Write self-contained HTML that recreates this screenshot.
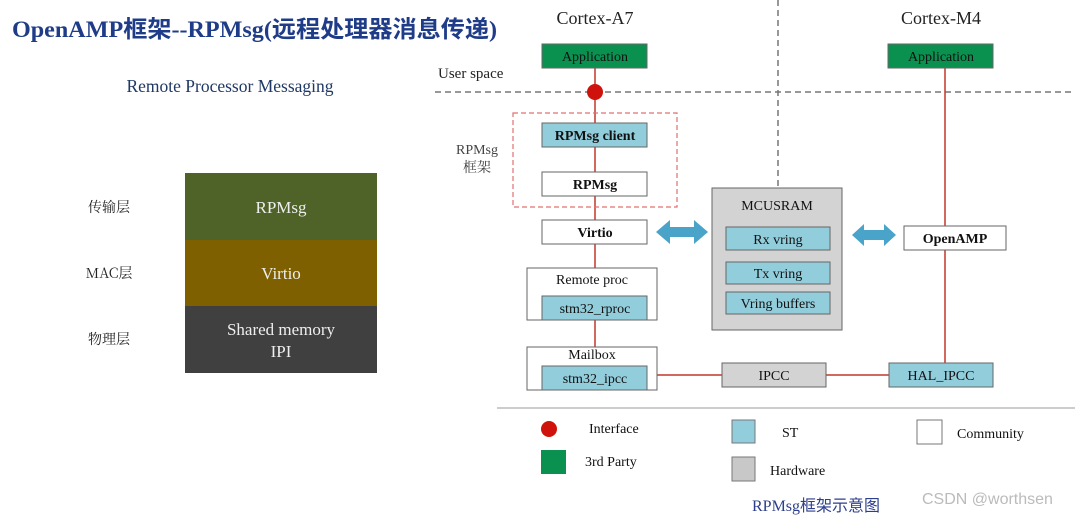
<!DOCTYPE html>
<html><head><meta charset="utf-8"><style>
html,body{margin:0;padding:0;background:#fff;}
svg{display:block;}
.s{font-family:"Liberation Serif","Noto Serif CJK SC",serif;}
</style></head><body>
<svg width="1084" height="515" viewBox="0 0 1084 515" xmlns="http://www.w3.org/2000/svg" class="s">
<text x="12" y="37" font-family="Liberation Serif,Noto Sans CJK SC,serif" font-weight="bold" font-size="23.5" fill="#1f3c88" textLength="485" lengthAdjust="spacingAndGlyphs">OpenAMP框架--RPMsg(远程处理器消息传递)</text>
<text x="230" y="92" text-anchor="middle" font-size="17.5" fill="#1f3864">Remote Processor Messaging</text>
<rect x="185" y="173" width="192" height="67" fill="#4f6228"/>
<rect x="185" y="240" width="192" height="66" fill="#7f6000"/>
<rect x="185" y="306" width="192" height="67" fill="#404040"/>
<g fill="#eee" font-size="17" text-anchor="middle">
<text x="281" y="213">RPMsg</text><text x="281" y="279">Virtio</text>
<text x="281" y="335">Shared memory</text><text x="281" y="357">IPI</text></g>
<g font-size="14" fill="#222" text-anchor="middle" font-family="Noto Serif CJK SC,serif">
<text x="109" y="212">传输层</text><text x="109" y="278">MAC层</text><text x="109" y="344">物理层</text></g>

<line x1="778" y1="0" x2="778" y2="188" stroke="#777" stroke-dasharray="6,4" stroke-width="1.5"/>
<line x1="435" y1="92" x2="1072" y2="92" stroke="#777" stroke-dasharray="6,4" stroke-width="1.5"/>
<text x="595" y="24" text-anchor="middle" font-size="18" fill="#222">Cortex-A7</text>
<text x="941" y="24" text-anchor="middle" font-size="18" fill="#222">Cortex-M4</text>
<text x="438" y="78" font-size="15" fill="#222">User space</text>
<text x="477" y="154" text-anchor="middle" font-size="14" fill="#444">RPMsg</text>
<text x="477" y="172" text-anchor="middle" font-size="14" fill="#444" font-family="Noto Serif CJK SC,serif">框架</text>

<g stroke="#c0392b" stroke-width="1.5">
<line x1="595" y1="68" x2="595" y2="366"/>
<line x1="945" y1="68" x2="945" y2="363"/>
<line x1="647" y1="375" x2="889" y2="375"/>
</g>
<circle cx="595" cy="92" r="8" fill="#d0120c"/>
<rect x="513" y="113" width="164" height="94" fill="none" stroke="#e07070" stroke-dasharray="5,3" stroke-width="1.2"/>

<g stroke="#666" stroke-width="1">
<rect x="542" y="44" width="105" height="24" fill="#0a9150"/>
<rect x="888" y="44" width="105" height="24" fill="#0a9150"/>
<rect x="542" y="123" width="105" height="24" fill="#92cddc"/>
<rect x="542" y="172" width="105" height="24" fill="#fff"/>
<rect x="542" y="220" width="105" height="24" fill="#fff"/>
<rect x="712" y="188" width="130" height="142" fill="#d3d3d3"/>
<rect x="726" y="227" width="104" height="23" fill="#92cddc"/>
<rect x="726" y="262" width="104" height="22" fill="#92cddc"/>
<rect x="726" y="292" width="104" height="22" fill="#92cddc"/>
<rect x="904" y="226" width="102" height="24" fill="#fff"/>
<rect x="527" y="268" width="130" height="52" fill="#fff"/>
<rect x="542" y="296" width="105" height="24" fill="#92cddc"/>
<rect x="527" y="347" width="130" height="43" fill="#fff"/>
<rect x="542" y="366" width="105" height="24" fill="#92cddc"/>
<rect x="722" y="363" width="104" height="24" fill="#d3d3d3"/>
<rect x="889" y="363" width="104" height="24" fill="#92cddc"/>
</g>
<g font-size="14" text-anchor="middle" fill="#111">
<text x="595" y="61">Application</text>
<text x="941" y="61">Application</text>
<text x="595" y="140" font-weight="bold">RPMsg client</text>
<text x="595" y="189" font-weight="bold">RPMsg</text>
<text x="595" y="237" font-weight="bold">Virtio</text>
<text x="777" y="210">MCUSRAM</text>
<text x="778" y="244">Rx vring</text>
<text x="778" y="278">Tx vring</text>
<text x="778" y="308">Vring buffers</text>
<text x="955" y="243" font-weight="bold">OpenAMP</text>
<text x="592" y="284">Remote proc</text>
<text x="595" y="313">stm32_rproc</text>
<text x="592" y="359">Mailbox</text>
<text x="595" y="383">stm32_ipcc</text>
<text x="774" y="380">IPCC</text>
<text x="941" y="380">HAL_IPCC</text>
</g>
<g fill="#4aa3c8">
<polygon points="656,232 670,220 670,227 694,227 694,220 708,232 694,244 694,237 670,237 670,244"/>
<polygon points="852,235 864,224 864,230 884,230 884,224 896,235 884,246 884,240 864,240 864,246"/>
</g>
<line x1="497" y1="408" x2="1075" y2="408" stroke="#999" stroke-width="1"/>
<circle cx="549" cy="429" r="8" fill="#d0120c"/>
<rect x="541" y="450" width="25" height="24" fill="#0a9150"/>
<rect x="732" y="420" width="23" height="23" fill="#92cddc" stroke="#777"/>
<rect x="732" y="457" width="23" height="24" fill="#c8c8c8" stroke="#777"/>
<rect x="917" y="420" width="25" height="24" fill="#fff" stroke="#777"/>
<g font-size="14" fill="#111">
<text x="589" y="433">Interface</text>
<text x="585" y="466">3rd Party</text>
<text x="782" y="437">ST</text>
<text x="770" y="475">Hardware</text>
<text x="957" y="438">Community</text>
</g>
<text x="752" y="511" font-size="16" fill="#2c3e8c" font-family="Liberation Serif,Noto Sans CJK SC,serif">RPMsg框架示意图</text>
<text x="922" y="504" font-size="16" fill="#bbb" font-family="Liberation Sans,sans-serif">CSDN @worthsen</text>
</svg>
</body></html>
